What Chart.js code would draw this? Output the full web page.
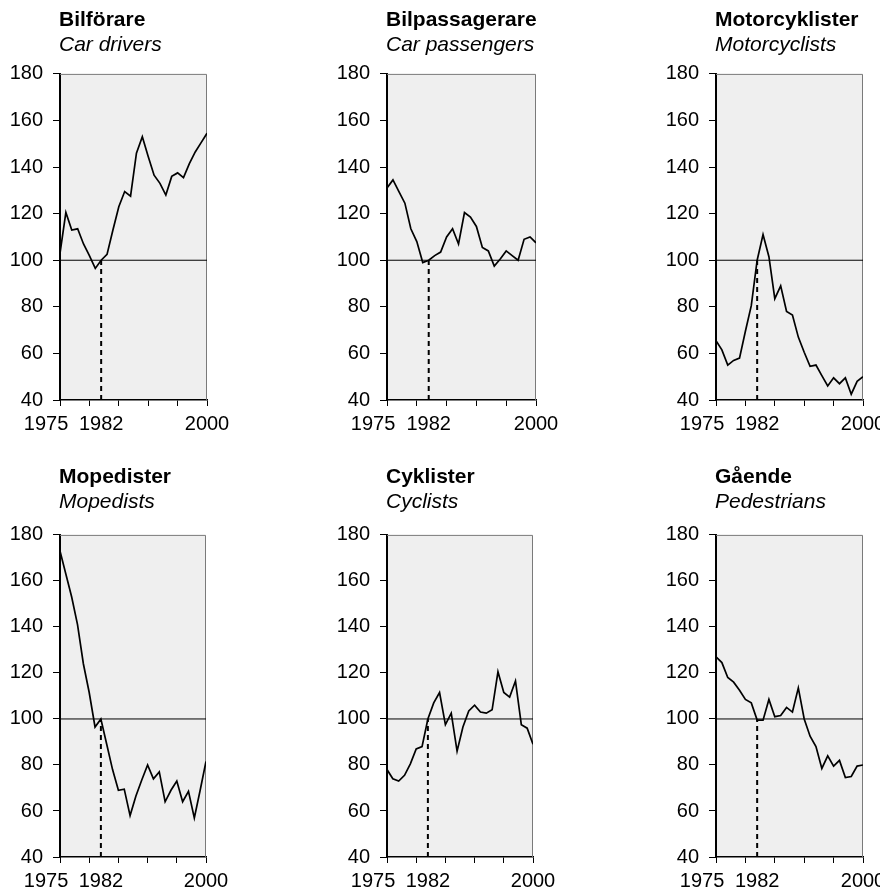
<!DOCTYPE html>
<html><head><meta charset="utf-8">
<script src="https://cdn.jsdelivr.net/npm/chart.js@4/dist/chart.umd.min.js"></script>
<style>
html,body{margin:0;padding:0;background:#fff;width:880px;height:892px;overflow:hidden;position:relative;}
canvas{position:absolute;}
</style></head><body>
<canvas id="c0"></canvas><canvas id="c1"></canvas><canvas id="c2"></canvas>
<canvas id="c3"></canvas><canvas id="c4"></canvas><canvas id="c5"></canvas>
<script>
// ---- data ----
const years = [1975,1976,1977,1978,1979,1980,1981,1982,1983,1984,1985,1986,1987,1988,1989,1990,1991,1992,1993,1994,1995,1996,1997,1998,1999,2000];
const titlesSv = ['Bilförare','Bilpassagerare','Motorcyklister','Mopedister','Cyklister','Gående'];
const titlesEn = ['Car drivers','Car passengers','Motorcyclists','Mopedists','Cyclists','Pedestrians'];
const carDrivers    = [103,120.5,113,113.5,107,102,96.5,100,102.5,113,123,129.5,127.5,146,153,144.5,136.5,133,128,136,137.5,135.5,141.5,146.5,150.5,154.5];
const carPassengers = [131,134.5,129.5,124.5,113.5,108,99,100,102,103.5,110,113.5,107,120.5,118.5,114.5,105.5,104,97.5,100.5,104,102,100,109,110,107.5];
const motorcyclists = [65.5,61.5,55,57,58,69.5,80.5,100,111,101.5,83.5,89,78,76.5,67,60.5,54.5,55,50.5,46,49.5,47,49.5,42.5,48,50];
const mopedists     = [173,163,153,141,124,111.5,96.5,100,89,78,69,69.5,58,66.5,73.5,80,74,77,64,69,73,64,68.5,57,69,81.5];
const cyclists      = [78,74,73,75.5,80.5,87,88,100,107,111.5,97.5,102.5,86,96.5,103.5,106,103,102.5,104,120.5,111.5,109.5,116.5,97.5,96,89];
const pedestrians   = [127,124.5,118,116,112.5,108.5,107,99.5,99.5,108.5,101,101.5,105,103,113.5,100,92.5,88,78.5,84,79.5,82,74.5,75,79.5,80];
const seriesList = [carDrivers, carPassengers, motorcyclists, mopedists, cyclists, pedestrians];
const yTicks = [40,60,80,100,120,140,160,180];
const xTickMarks = [1975,1980,1985,1990,1995,2000];
const xTickLabels = [1975,1982,2000];
const baseYear = 1982;
const baseIndex = 100;
const yMin = 40, yMax = 180;

// ---- layout (pixels) ----
const Y_AXIS_W = 55, X_AXIS_H = 40, PAD_R = 34;
const panels = [
  {left:60,  right:207, bottom:400, canvasTop:0,   titleGap:16},
  {left:387, right:536, bottom:400, canvasTop:0,   titleGap:16},
  {left:716, right:863, bottom:400, canvasTop:0,   titleGap:16},
  {left:60,  right:206, bottom:857, canvasTop:457, titleGap:20},
  {left:387, right:533, bottom:857, canvasTop:457, titleGap:20},
  {left:716, right:863, bottom:857, canvasTop:457, titleGap:20}
];

Chart.defaults.font.family = '"Liberation Sans", Arial, Helvetica, sans-serif';
Chart.defaults.color = '#000';

const plotFrame = {
  id: 'plotFrame',
  afterLayout(chart) {
    chart.boxes.forEach(b => {
      if (b.options && typeof b.options.text === 'string' && b.options.text.length) {
        b.left = chart.chartArea.left - 1;
        b.right = chart.width;
      }
    });
  },
  beforeDraw(chart) {
    const {ctx, chartArea: a} = chart;
    ctx.save();
    ctx.fillStyle = '#efefef';
    ctx.fillRect(a.left, a.top, a.right - a.left, a.bottom - a.top);
    ctx.restore();
  },
  beforeDatasetsDraw(chart) {
    const {ctx, chartArea: a} = chart;
    ctx.save();
    ctx.strokeStyle = '#7a7a7a';
    ctx.lineWidth = 1;
    ctx.beginPath();
    ctx.moveTo(a.left, a.top + 0.5);
    ctx.lineTo(a.right - 0.5, a.top + 0.5);
    ctx.lineTo(a.right - 0.5, a.bottom);
    ctx.stroke();
    ctx.restore();
  }
};

function makeChart(i) {
  const p = panels[i];
  const cv = document.getElementById('c' + i);
  cv.width = Y_AXIS_W + (p.right - p.left) + PAD_R;
  cv.height = (p.bottom - p.canvasTop) + X_AXIS_H;
  cv.style.left = (p.left - Y_AXIS_W) + 'px';
  cv.style.top = p.canvasTop + 'px';
  const values = seriesList[i];
  new Chart(cv, {
    type: 'line',
    data: {
      datasets: [
        { data: years.map((y, k) => ({x: y, y: values[k]})), borderColor: '#000', borderWidth: 1.7, pointRadius: 0, tension: 0 },
        { data: [{x: years[0], y: baseIndex}, {x: years[years.length - 1], y: baseIndex}], borderColor: '#000', borderWidth: 1, pointRadius: 0 },
        { data: [{x: baseYear, y: yMin}, {x: baseYear, y: baseIndex}], borderColor: '#000', borderWidth: 2, borderDash: [5, 4], pointRadius: 0 }
      ]
    },
    options: {
      responsive: false, animation: false, devicePixelRatio: 1,
      layout: {padding: {left: 0, right: PAD_R, top: 0, bottom: 0}},
      plugins: {
        legend: {display: false},
        tooltip: {enabled: false},
        title: {display: true, text: titlesSv[i], align: 'start', color: '#000',
                font: {size: 21, weight: 'bold'}, padding: {top: 7.5, bottom: 0}},
        subtitle: {display: true, text: titlesEn[i], align: 'start', color: '#000',
                font: {size: 21, style: 'italic', weight: 'normal'}, padding: {top: 0, bottom: p.titleGap}}
      },
      scales: {
        x: {
          type: 'linear', min: years[0], max: years[years.length - 1],
          afterBuildTicks: s => { s.ticks = xTickMarks.concat([baseYear]).sort((a, b) => a - b).map(v => ({value: v})); },
          afterFit: s => { s.height = X_AXIS_H; },
          ticks: {
            autoSkip: false, maxRotation: 0, minRotation: 0, padding: 6, font: {size: 20}, color: '#000',
            callback: v => xTickLabels.includes(v) ? (v === years[0] ? String(v) + '     ' : String(v)) : ''
          },
          grid: {display: true, drawOnChartArea: false, drawTicks: true, tickLength: 6, lineWidth: 1, tickWidth: 1,
                 tickColor: c => (c.tick && c.tick.value === baseYear) ? 'rgba(0,0,0,0)' : '#000'},
          border: {display: true, color: '#000', width: 1.5}
        },
        y: {
          type: 'linear', min: yMin, max: yMax,
          afterBuildTicks: s => { s.ticks = yTicks.map(v => ({value: v})); },
          afterFit: s => { s.width = Y_AXIS_W; },
          ticks: {padding: 10, font: {size: 20}, color: '#000'},
          grid: {display: true, drawOnChartArea: false, drawTicks: true, tickLength: 7, lineWidth: 1, tickWidth: 1, tickColor: '#000'},
          border: {display: true, color: '#000', width: 2}
        }
      }
    },
    plugins: [plotFrame]
  });
}
for (let i = 0; i < 6; i++) makeChart(i);
</script>
</body></html>
